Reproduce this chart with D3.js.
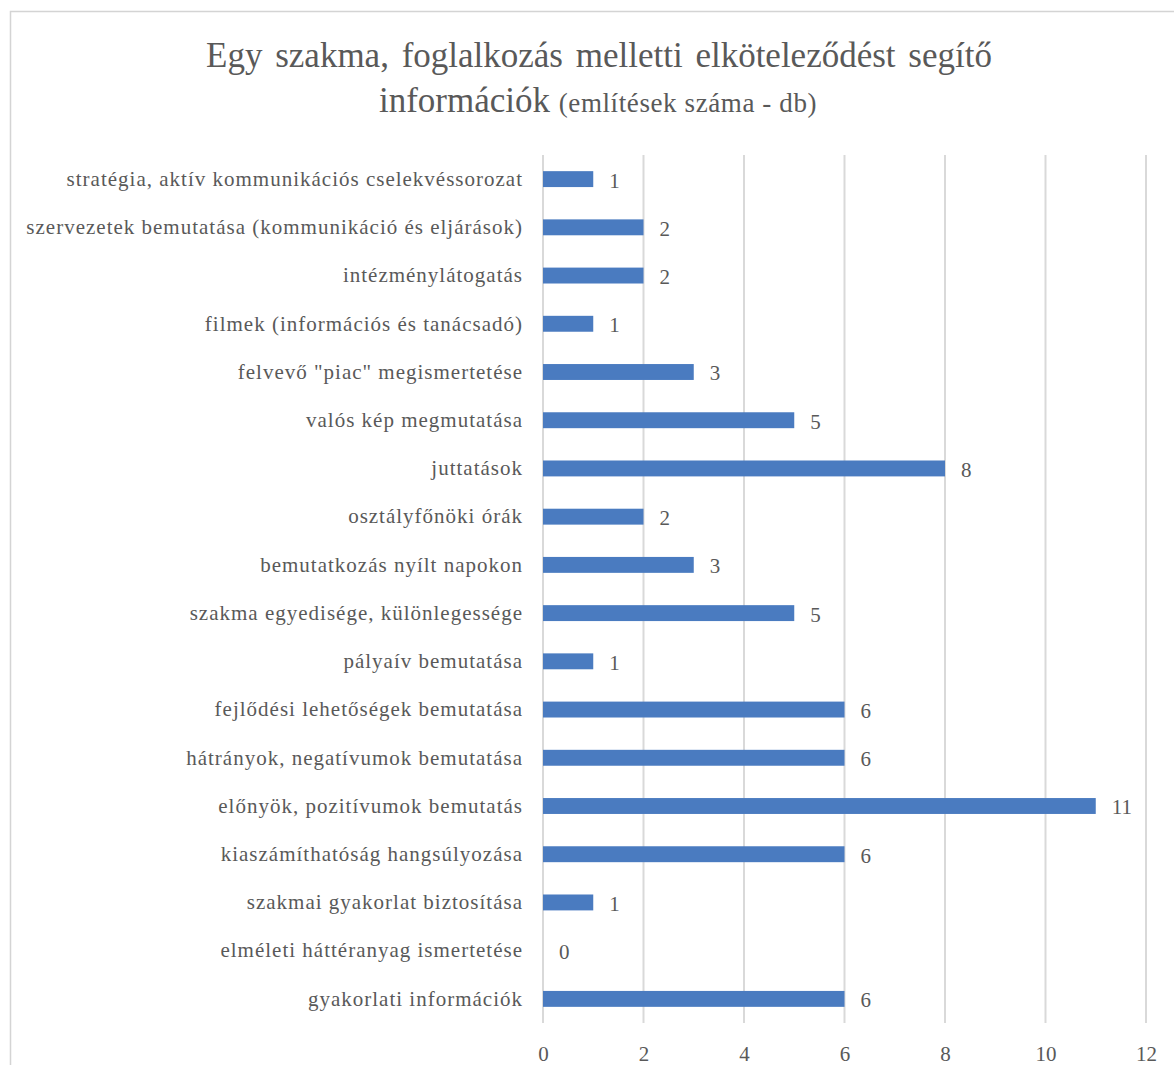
<!DOCTYPE html>
<html>
<head>
<meta charset="utf-8">
<script src="https://cdn.jsdelivr.net/npm/d3@7"></script>
<style>
  html, body { margin: 0; padding: 0; background: #fff; }
  svg { display: block; }
</style>
</head>
<body>
<svg id="chart" width="1174" height="1065"></svg>
<script>
// Categories from top to bottom and number of mentions
const categories = [
  "stratégia, aktív kommunikációs cselekvéssorozat",
  "szervezetek bemutatása (kommunikáció és eljárások)",
  "intézménylátogatás",
  "filmek (információs és tanácsadó)",
  "felvevő \"piac\" megismertetése",
  "valós kép megmutatása",
  "juttatások",
  "osztályfőnöki órák",
  "bemutatkozás nyílt napokon",
  "szakma egyedisége, különlegessége",
  "pályaív bemutatása",
  "fejlődési lehetőségek bemutatása",
  "hátrányok, negatívumok bemutatása",
  "előnyök, pozitívumok bemutatás",
  "kiaszámíthatóság hangsúlyozása",
  "szakmai gyakorlat biztosítása",
  "elméleti háttéranyag ismertetése",
  "gyakorlati információk"
];
const mentions = [1, 2, 2, 1, 3, 5, 8, 2, 3, 5, 1, 6, 6, 11, 6, 1, 0, 6];
const xTicks = [0, 2, 4, 6, 8, 10, 12];

const FONT = "'Liberation Serif', 'Times New Roman', serif";
const TEXT_COLOR = "#595959";

const svg = d3.select("#chart");

// Outer chart frame
svg.append("rect")
  .attr("x", 10.5).attr("y", 11.5)
  .attr("width", 1180).attr("height", 1080)
  .attr("fill", "none").attr("stroke", "#d4d4d4").attr("stroke-width", 1.5);

// Title
const title = svg.append("text")
  .attr("text-anchor", "middle")
  .style("font-family", FONT).style("fill", TEXT_COLOR);
title.append("tspan").attr("x", 599).attr("y", 67)
  .style("font-size", "35px").style("word-spacing", "4px")
  .text("Egy szakma, foglalkozás melletti elköteleződést segítő");
const t2 = title.append("tspan").attr("x", 598).attr("y", 112);
t2.append("tspan").style("font-size", "35px").text("információk ");
t2.append("tspan").style("font-size", "27px").style("letter-spacing", "0.6px")
  .text("(említések száma - db)");

const plot = { left: 543, right: 1146, top: 155, bottom: 1023 };

const x = d3.scaleLinear().domain([0, 12]).range([plot.left, plot.right]);
const y = d3.scaleBand().domain(categories).range([plot.top, plot.bottom]).paddingInner(0.67).paddingOuter(0.335);

// Vertical gridlines
svg.append("g")
  .selectAll("line")
  .data(xTicks)
  .join("line")
  .attr("x1", d => x(d)).attr("x2", d => x(d))
  .attr("y1", plot.top).attr("y2", plot.bottom)
  .attr("stroke", "#d9d9d9").attr("stroke-width", 2);

// Bottom axis labels
const xAxis = d3.axisBottom(x).tickValues(xTicks).tickSize(0).tickPadding(0).tickFormat(d3.format("d"));
const gx = svg.append("g").attr("transform", `translate(0, ${plot.bottom})`).call(xAxis);
gx.select(".domain").remove();
gx.selectAll("text")
  .attr("y", 38).attr("dy", null)
  .style("font-family", FONT).style("font-size", "21px").style("fill", TEXT_COLOR);

// Category labels
const yAxis = d3.axisLeft(y).tickSize(0).tickPadding(0);
const gy = svg.append("g").attr("transform", `translate(${plot.left - 20}, 0)`).call(yAxis);
gy.select(".domain").remove();
gy.selectAll("text")
  .style("font-family", FONT).style("font-size", "21px").style("letter-spacing", "1px")
  .style("fill", TEXT_COLOR);

// Bars
svg.append("g")
  .selectAll("rect")
  .data(categories)
  .join("rect")
  .attr("x", x(0))
  .attr("y", d => y(d))
  .attr("width", (d, i) => x(mentions[i]) - x(0))
  .attr("height", y.bandwidth())
  .attr("fill", "#4a7bc0");

// Value labels
svg.append("g")
  .selectAll("text")
  .data(categories)
  .join("text")
  .attr("x", (d, i) => x(mentions[i]) + 16)
  .attr("y", d => y(d) + y.bandwidth() / 2)
  .attr("dy", "0.4em")
  .style("font-family", FONT).style("font-size", "21px").style("fill", TEXT_COLOR)
  .text((d, i) => mentions[i]);
</script>
</body>
</html>
